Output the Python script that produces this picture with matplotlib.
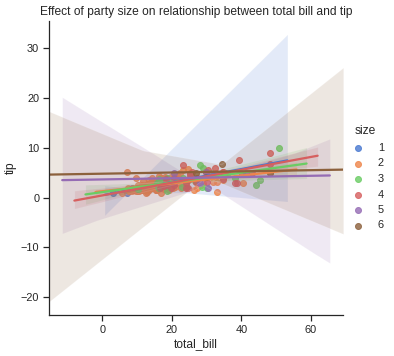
import matplotlib
matplotlib.use("Agg")
import matplotlib.pyplot as plt
import numpy as np
import seaborn as sns

# party size 1
size1_bill = [3.07, 10.07, 7.25, 8.58]
size1_tip = [1.00, 1.83, 1.00, 1.92]

# party size 2
size2_bill = [16.99, 23.68, 8.77, 15.04, 14.78, 10.27, 15.42, 14.83, 21.58, 17.92,
              20.29, 15.77, 19.82, 13.37, 12.69, 21.70, 19.65, 9.55, 15.06, 17.78,
              17.46, 13.94, 9.68, 18.29, 22.23, 18.04, 12.54, 10.29, 9.94, 19.49,
              26.41, 11.24, 20.29, 13.81, 11.02, 16.45, 20.23, 15.01, 12.02, 26.86,
              25.28, 14.73, 10.51, 17.92, 22.76, 17.29, 19.44, 16.66, 32.68, 15.98,
              13.03, 18.28, 24.71, 21.16, 28.97, 22.49, 5.75, 16.32, 22.75, 27.28,
              12.03, 21.01, 12.46, 11.35, 15.38, 22.42, 20.92, 15.36, 20.49, 25.21,
              18.24, 14.31, 14.00, 23.95, 17.31, 10.65, 12.43, 11.69, 13.42, 14.26,
              15.95, 12.48, 8.52, 14.52, 11.38, 19.08, 20.27, 11.17, 12.26, 18.26,
              8.51, 10.33, 14.15, 16.00, 13.16, 17.47, 16.43, 8.35, 11.87, 9.78,
              7.51, 14.07, 13.13, 13.39, 12.66, 13.81, 17.51, 20.76, 10.59, 10.63,
              15.81, 7.25, 31.85, 16.82, 32.90, 17.89, 14.48, 9.60, 34.63, 23.33,
              40.55, 15.69, 19.81, 28.44, 15.48, 16.58, 7.56, 10.34, 13.00, 13.51,
              12.74, 13.00, 16.40, 24.27, 12.76, 13.27, 12.90, 11.59, 7.74, 12.16,
              13.42, 13.42, 16.27, 10.09, 13.28, 22.12, 11.61, 10.77, 15.53, 10.07,
              12.60, 32.83, 27.18, 22.67, 17.82, 18.78]
size2_tip = [1.01, 3.31, 2.00, 1.96, 3.23, 1.71, 1.57, 3.02, 3.92, 4.08,
             2.75, 2.23, 3.18, 2.00, 2.00, 4.30, 3.00, 1.45, 3.00, 3.27,
             2.54, 3.06, 1.32, 3.00, 5.00, 3.00, 2.50, 2.60, 1.56, 3.51,
             1.50, 1.76, 3.21, 2.00, 1.98, 2.47, 2.01, 2.09, 1.97, 3.14,
             5.00, 2.20, 1.25, 3.08, 3.00, 2.71, 3.00, 3.40, 5.00, 2.03,
             2.00, 4.00, 5.85, 3.00, 3.00, 3.50, 1.00, 4.30, 3.25, 4.00,
             1.50, 3.00, 1.50, 2.50, 3.00, 3.48, 4.08, 1.64, 4.06, 4.29,
             3.76, 4.00, 3.00, 2.55, 3.50, 1.50, 1.80, 2.31, 1.68, 2.50,
             2.00, 2.52, 1.48, 2.00, 2.00, 1.50, 2.83, 1.50, 2.00, 3.25,
             1.25, 2.00, 2.00, 2.00, 2.75, 3.50, 2.30, 1.50, 1.63, 1.73,
             2.00, 2.50, 2.00, 2.61, 2.50, 2.00, 3.00, 2.24, 1.61, 2.00,
             3.16, 5.15, 3.18, 4.00, 3.11, 2.00, 2.00, 4.00, 3.55, 5.65,
             3.00, 1.50, 4.19, 2.56, 2.02, 4.00, 1.44, 2.00, 2.00, 2.00,
             2.01, 2.00, 2.50, 2.03, 2.23, 2.50, 1.10, 1.50, 1.44, 2.20,
             3.48, 1.58, 2.50, 2.00, 2.72, 2.88, 3.39, 1.47, 3.00, 1.25,
             1.00, 1.17, 2.00, 2.00, 1.75, 3.00]

# party size 3
size3_bill = [10.34, 21.01, 10.33, 16.29, 16.97, 20.65, 24.06, 16.31, 16.93, 18.69,
              31.27, 16.04, 28.55, 17.59, 20.08, 17.07, 44.30, 38.07, 25.71, 22.82,
              18.64, 17.26, 16.21, 24.52, 50.81, 45.35, 20.90, 18.15, 23.10, 18.71,
              16.47, 26.59, 30.06, 28.17, 15.98, 15.69, 35.83, 29.03]
size3_tip = [1.66, 3.50, 1.67, 3.71, 3.50, 3.35, 3.60, 2.00, 3.07, 2.31,
             5.00, 2.24, 2.05, 2.64, 3.15, 3.00, 2.50, 4.00, 4.00, 2.18,
             1.36, 2.74, 2.00, 3.48, 10.00, 3.50, 3.50, 3.50, 4.00, 4.00,
             3.23, 3.41, 2.00, 6.50, 3.00, 3.00, 4.67, 5.92]

# party size 4
size4_bill = [24.59, 25.29, 26.88, 35.26, 18.43, 39.42, 17.81, 18.35, 20.69, 30.40,
              32.40, 34.81, 25.56, 38.01, 48.27, 18.29, 27.20, 34.83, 40.17, 29.93,
              24.08, 24.55, 19.77, 25.00, 16.49, 21.50, 31.71, 34.65, 23.17, 43.11,
              20.53, 38.73, 25.89, 48.33, 30.14, 20.45, 24.01]
size4_tip = [3.61, 4.71, 3.12, 5.00, 3.00, 7.58, 2.34, 2.50, 2.45, 5.60,
             6.00, 5.20, 4.34, 3.00, 6.73, 3.76, 4.00, 5.17, 4.73, 5.07,
             2.92, 2.00, 2.00, 3.75, 2.00, 3.50, 4.50, 3.68, 6.50, 5.00,
             4.00, 3.00, 5.16, 9.00, 3.09, 3.00, 2.00]

# party size 5
size5_bill = [41.19, 29.85, 20.69, 30.46, 28.15]
size5_tip = [5.00, 5.14, 5.00, 2.00, 3.00]

# party size 6
size6_bill = [29.80, 34.30, 27.05, 48.17]
size6_tip = [4.20, 6.70, 5.00, 5.00]

groups = [
    ("1", size1_bill, size1_tip),
    ("2", size2_bill, size2_tip),
    ("3", size3_bill, size3_tip),
    ("4", size4_bill, size4_tip),
    ("5", size5_bill, size5_tip),
    ("6", size6_bill, size6_tip),
]

sns.set_theme(style="ticks")
plt.rcParams["font.family"] = ["Liberation Sans", "DejaVu Sans"]

fig, ax = plt.subplots(figsize=(394 / 72, 356 / 72), dpi=72)
fig.subplots_adjust(left=0.124, right=0.871, bottom=0.115, top=0.941)

all_bill = np.concatenate([g[1] for g in groups])
all_tip = np.concatenate([g[2] for g in groups])
# set x range from the whole data first, so the lines start from there
ax.scatter(all_bill, np.full(len(all_bill), all_tip.mean())).remove()

palette = sns.color_palette("muted", len(groups))
for (label, bills, tips), color in zip(groups, palette):
    # let each new fit reach a bit further than the previous one
    for line in ax.lines:
        line.sticky_edges.x[:] = []
    sns.regplot(x=np.array(bills), y=np.array(tips), ax=ax, truncate=False,
                color=color, label=label, seed=7)

ax.set_xlabel("total_bill")
ax.set_ylabel("tip")
ax.set_title("Effect of party size on relationship between total bill and tip")
sns.despine(ax=ax)

handles, labels = ax.get_legend_handles_labels()
leg = fig.legend(handles, labels, title="size", loc="center right",
                 frameon=False)
leg.get_title().set_fontsize(12)

fig.savefig("out.png", dpi=72)
